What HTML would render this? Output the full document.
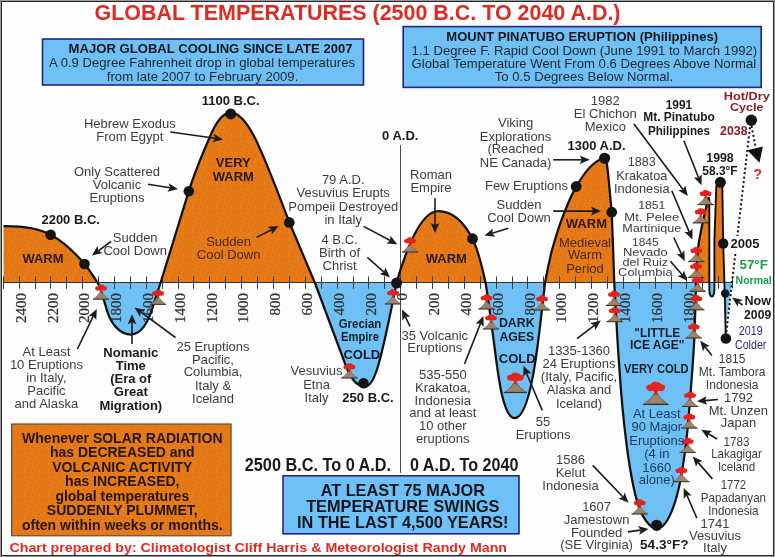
<!DOCTYPE html>
<html><head><meta charset="utf-8"><title>Global Temperatures</title>
<style>html,body{margin:0;padding:0;background:#fdfdfd}svg{display:block;will-change:transform}text{font-family:"Liberation Sans",sans-serif}.s{font-family:"Liberation Serif",serif}</style></head><body>
<svg width="775" height="557" viewBox="0 0 775 557">
<defs>
<clipPath id="up"><rect x="0" y="0" width="775" height="282.5"/></clipPath>
<clipPath id="dn"><rect x="0" y="282.5" width="775" height="274.5"/></clipPath>
<g id="v"><path d="M-7.8 0Q-3.4 -3 -0.9 -7.3L0.9 -7.3Q3.4 -3 7.8 0Z" fill="#9b846a" stroke="#5a4a3a" stroke-width="0.5" stroke-linejoin="round"/><path d="M-8.2 0H8.2" stroke="#3a3028" stroke-width="0.9"/><path d="M-1.05 -6.4V-10.2H1.05V-6.4Z" fill="#e3241c"/><path d="M-5.8 -10.6C-6.5 -12.6 -4.6 -14 -3.1 -13.5C-2.7 -15.1 -0.6 -15.8 0.9 -15C2.4 -15.2 3.4 -14.3 3.6 -13.5C5.2 -13.9 6.5 -12.5 5.8 -10.6C5.3 -9 3.4 -8.7 2.4 -9.3C1.4 -8.6 -1.4 -8.6 -2.4 -9.3C-3.4 -8.7 -5.3 -9 -5.8 -10.6Z" fill="#e3241c"/></g>
<pattern id="tx" width="24" height="24" patternUnits="userSpaceOnUse"><rect width="24" height="24" fill="#e47b15"/><rect x="10" y="4" width="1" height="1" fill="#e75a28"/><rect x="12" y="20" width="1" height="1" fill="#e75a28"/><rect x="1" y="2" width="1" height="1" fill="#e75a28"/><rect x="17" y="3" width="1" height="1" fill="#e75a28"/><rect x="11" y="18" width="1" height="1" fill="#e75a28"/><rect x="1" y="16" width="1" height="1" fill="#e68256"/><rect x="6" y="1" width="1" height="1" fill="#e75a28"/><rect x="2" y="13" width="1" height="1" fill="#e75a28"/><rect x="13" y="2" width="1" height="1" fill="#e75a28"/><rect x="17" y="13" width="1" height="1" fill="#e75a28"/><rect x="1" y="18" width="1" height="1" fill="#e75a28"/><rect x="3" y="7" width="1" height="1" fill="#e68256"/><rect x="20" y="20" width="1" height="1" fill="#e75a28"/><rect x="18" y="1" width="1" height="1" fill="#e75a28"/><rect x="18" y="18" width="1" height="1" fill="#e75a28"/><rect x="9" y="13" width="1" height="1" fill="#e75a28"/><rect x="4" y="17" width="1" height="1" fill="#e75a28"/><rect x="9" y="17" width="1" height="1" fill="#e68256"/><rect x="21" y="5" width="1" height="1" fill="#e75a28"/><rect x="18" y="20" width="1" height="1" fill="#e75a28"/><rect x="6" y="11" width="1" height="1" fill="#e75a28"/><rect x="22" y="2" width="1" height="1" fill="#e75a28"/><rect x="19" y="6" width="1" height="1" fill="#e75a28"/><rect x="15" y="21" width="1" height="1" fill="#e68256"/><rect x="11" y="9" width="1" height="1" fill="#e75a28"/><rect x="7" y="5" width="1" height="1" fill="#e75a28"/><rect x="22" y="7" width="1" height="1" fill="#e75a28"/><rect x="15" y="10" width="1" height="1" fill="#e75a28"/><rect x="23" y="14" width="1" height="1" fill="#e75a28"/><rect x="9" y="19" width="1" height="1" fill="#e68256"/><rect x="4" y="15" width="1" height="1" fill="#e75a28"/><rect x="22" y="11" width="1" height="1" fill="#e75a28"/><rect x="19" y="15" width="1" height="1" fill="#e75a28"/><rect x="8" y="15" width="1" height="1" fill="#e75a28"/><rect x="22" y="21" width="1" height="1" fill="#e75a28"/><rect x="0" y="14" width="1" height="1" fill="#e68256"/><rect x="19" y="3" width="1" height="1" fill="#e75a28"/><rect x="15" y="1" width="1" height="1" fill="#e75a28"/><rect x="6" y="9" width="1" height="1" fill="#e75a28"/><rect x="4" y="23" width="1" height="1" fill="#e75a28"/><rect x="12" y="15" width="1" height="1" fill="#e75a28"/><rect x="2" y="5" width="1" height="1" fill="#e68256"/><rect x="14" y="12" width="1" height="1" fill="#e75a28"/><rect x="17" y="8" width="1" height="1" fill="#e75a28"/><rect x="4" y="13" width="1" height="1" fill="#e75a28"/><rect x="12" y="7" width="1" height="1" fill="#e75a28"/></pattern>
</defs>
<rect x="0" y="0" width="775" height="557" fill="#fdfdfd"/>
<rect x="0.5" y="0.5" width="774" height="556" fill="none" stroke="#9a9a9a" stroke-width="1"/>
<rect x="1.5" y="1.5" width="772" height="554" fill="none" stroke="#262626" stroke-width="1"/>
<text x="94.5" y="20.2" font-size="22.3" fill="#de2a22" font-weight="bold" textLength="526" lengthAdjust="spacingAndGlyphs">GLOBAL TEMPERATURES (2500 B.C. TO 2040 A.D.)</text>
<rect x="42.5" y="39" width="321" height="46" fill="#6fc1f5" stroke="#26228c" stroke-width="1.6"/>
<text x="68.6" y="53.2" font-size="13" fill="#16161e" font-weight="bold" textLength="284" lengthAdjust="spacingAndGlyphs">MAJOR GLOBAL COOLING SINCE LATE 2007</text>
<text x="49" y="67" font-size="13" fill="#1c2430" textLength="306" lengthAdjust="spacingAndGlyphs">A 0.9 Degree Fahrenheit drop in global temperatures</text>
<text x="106.8" y="80.5" font-size="13" fill="#1c2430" textLength="191.5" lengthAdjust="spacingAndGlyphs">from late 2007 to February 2009.</text>
<rect x="403.2" y="26.6" width="358" height="60.8" fill="#6fc1f5" stroke="#26228c" stroke-width="1.6"/>
<text x="446.3" y="40.8" font-size="13" fill="#16161e" font-weight="bold" textLength="271.7" lengthAdjust="spacingAndGlyphs">MOUNT PINATUBO ERUPTION (Philippines)</text>
<text x="411.6" y="55" font-size="13" fill="#1c2430" textLength="345.6" lengthAdjust="spacingAndGlyphs">1.1 Degree F. Rapid Cool Down (June 1991 to March 1992)</text>
<text x="411.6" y="67.8" font-size="13" fill="#1c2430" textLength="344.6" lengthAdjust="spacingAndGlyphs">Global Temperature Went From 0.6 Degrees Above Normal</text>
<text x="494.7" y="80.5" font-size="13" fill="#1c2430" textLength="178.4" lengthAdjust="spacingAndGlyphs">To 0.5 Degrees Below Normal.</text>
<path d="M3.5 226.2C25 226 40 229 50.6 234.8C64 242 76 254 84.5 264C90 270.5 94 277 98 283.5C101 289 104 301 107.8 313C111.5 324 120 334.5 131 334.5C142 334.5 149 322 154.5 301.3L160.5 283L188.8 191.2C196 168 205 148 212 132C217 121 223 112.5 231 112.5C238 112.5 246 121 254 136C266 160 278 193 289.3 222.2L315 283L346.7 368C352 381 358 386.5 365 386.5C371 386.5 376 375 380 359C385 340 390 316 396.5 283C400 270 405 256 410 244C416 230 426 211.5 438 211C452 211 464 222 472.5 238.7C478 250 482 266 485.6 283C488 297 491 320 494 343C498 375 503 418 514.5 418C526 418 533 380 537 350C540 328 543 300 545 283C547 272 549 262 552 250C556 236 560 223 564.3 212.8C568 203 572 194 576.4 186.4C584 173 594 160 604.7 158C607 159 608 172 609.5 188.5L611.7 212.2C612.5 230 613.5 260 614.3 283C615.5 305 617 335 619 363C621 395 624 425 627 448C630 470 634 495 640 510C645 521 650 528.5 657 528.5C664 528.5 670 518 675.5 500.6C681 483 685 455 688 425C690 400 692.5 370 694 345C695 325 695.5 300 696 283C696.5 268 697 255 698.5 245C700 235 703 220 708.6 197L709.3 200L709.3 289C709.3 299 714.4 299 714.4 289L714.4 240L716.3 186L720.4 181L722.3 186L723.2 243L724.7 293L725.8 338L725.8 282.5L3.5 282.5Z" fill="url(#tx)" clip-path="url(#up)"/>
<path d="M3.5 226.2C25 226 40 229 50.6 234.8C64 242 76 254 84.5 264C90 270.5 94 277 98 283.5C101 289 104 301 107.8 313C111.5 324 120 334.5 131 334.5C142 334.5 149 322 154.5 301.3L160.5 283L188.8 191.2C196 168 205 148 212 132C217 121 223 112.5 231 112.5C238 112.5 246 121 254 136C266 160 278 193 289.3 222.2L315 283L346.7 368C352 381 358 386.5 365 386.5C371 386.5 376 375 380 359C385 340 390 316 396.5 283C400 270 405 256 410 244C416 230 426 211.5 438 211C452 211 464 222 472.5 238.7C478 250 482 266 485.6 283C488 297 491 320 494 343C498 375 503 418 514.5 418C526 418 533 380 537 350C540 328 543 300 545 283C547 272 549 262 552 250C556 236 560 223 564.3 212.8C568 203 572 194 576.4 186.4C584 173 594 160 604.7 158C607 159 608 172 609.5 188.5L611.7 212.2C612.5 230 613.5 260 614.3 283C615.5 305 617 335 619 363C621 395 624 425 627 448C630 470 634 495 640 510C645 521 650 528.5 657 528.5C664 528.5 670 518 675.5 500.6C681 483 685 455 688 425C690 400 692.5 370 694 345C695 325 695.5 300 696 283C696.5 268 697 255 698.5 245C700 235 703 220 708.6 197L709.3 200L709.3 289C709.3 299 714.4 299 714.4 289L714.4 240L716.3 186L720.4 181L722.3 186L723.2 243L724.7 293L725.8 338L725.8 282.5L3.5 282.5Z" fill="#6fc1f5" clip-path="url(#dn)"/>
<path d="M725 282.5L732 282.5L726.5 320L725.5 320Z" fill="#6fc1f5"/>
<line x1="400.5" y1="145" x2="400.5" y2="473" stroke="#4a4a4a" stroke-width="1"/>
<line x1="3.5" y1="282.5" x2="732.5" y2="282.5" stroke="#3a3030" stroke-width="1"/>
<path d="M3.5 276.4V288.8M19.5 276.4V288.8M35.5 276.4V288.8M50.5 276.4V288.8M66.5 276.4V288.8M82.5 276.4V288.8M98.5 276.4V288.8M114.5 276.4V288.8M130.5 276.4V288.8M146.5 276.4V288.8M162.5 276.4V288.8M178.5 276.4V288.8M193.5 276.4V288.8M209.5 276.4V288.8M225.5 276.4V288.8M241.5 276.4V288.8M257.5 276.4V288.8M273.5 276.4V288.8M289.5 276.4V288.8M305.5 276.4V288.8M321.5 276.4V288.8M337.5 276.4V288.8M353.5 276.4V288.8M368.5 276.4V288.8M384.5 276.4V288.8M400.5 276.4V288.8M416.5 276.4V288.8M432.5 276.4V288.8M448.5 276.4V288.8M464.5 276.4V288.8M480.5 276.4V288.8M496.5 276.4V288.8M512.5 276.4V288.8M527.5 276.4V288.8M543.5 276.4V288.8M559.5 276.4V288.8M575.5 276.4V288.8M591.5 276.4V288.8M607.5 276.4V288.8M623.5 276.4V288.8M639.5 276.4V288.8M655.5 276.4V288.8M671.5 276.4V288.8M686.5 276.4V288.8M702.5 276.4V288.8M718.5 276.4V288.8M732.5 277.5V288.5" stroke="#3a3a3a" stroke-width="1" fill="none"/>
<text class="s" font-size="15" fill="#333" stroke="#333" stroke-width="0.25" text-anchor="end" transform="translate(25.7 293.1) rotate(-90)">2400</text>
<text class="s" font-size="15" fill="#333" stroke="#333" stroke-width="0.25" text-anchor="end" transform="translate(57.5 293.1) rotate(-90)">2200</text>
<text class="s" font-size="15" fill="#333" stroke="#333" stroke-width="0.25" text-anchor="end" transform="translate(89.3 293.1) rotate(-90)">2000</text>
<text class="s" font-size="15" fill="#333" stroke="#333" stroke-width="0.25" text-anchor="end" transform="translate(121.1 293.1) rotate(-90)">1800</text>
<text class="s" font-size="15" fill="#333" stroke="#333" stroke-width="0.25" text-anchor="end" transform="translate(152.9 293.1) rotate(-90)">1600</text>
<text class="s" font-size="15" fill="#333" stroke="#333" stroke-width="0.25" text-anchor="end" transform="translate(184.7 293.1) rotate(-90)">1400</text>
<text class="s" font-size="15" fill="#333" stroke="#333" stroke-width="0.25" text-anchor="end" transform="translate(216.5 293.1) rotate(-90)">1200</text>
<text class="s" font-size="15" fill="#333" stroke="#333" stroke-width="0.25" text-anchor="end" transform="translate(248.3 293.1) rotate(-90)">1000</text>
<text class="s" font-size="15" fill="#333" stroke="#333" stroke-width="0.25" text-anchor="end" transform="translate(280.1 293.1) rotate(-90)">800</text>
<text class="s" font-size="15" fill="#333" stroke="#333" stroke-width="0.25" text-anchor="end" transform="translate(311.9 293.1) rotate(-90)">600</text>
<text class="s" font-size="15" fill="#333" stroke="#333" stroke-width="0.25" text-anchor="end" transform="translate(343.7 293.1) rotate(-90)">400</text>
<text class="s" font-size="15" fill="#333" stroke="#333" stroke-width="0.25" text-anchor="end" transform="translate(375.5 293.1) rotate(-90)">200</text>
<text class="s" font-size="15" fill="#333" stroke="#333" stroke-width="0.25" text-anchor="end" transform="translate(407.3 293.1) rotate(-90)">0</text>
<text class="s" font-size="15" fill="#333" stroke="#333" stroke-width="0.25" text-anchor="end" transform="translate(439.1 293.1) rotate(-90)">200</text>
<text class="s" font-size="15" fill="#333" stroke="#333" stroke-width="0.25" text-anchor="end" transform="translate(470.9 293.1) rotate(-90)">400</text>
<text class="s" font-size="15" fill="#333" stroke="#333" stroke-width="0.25" text-anchor="end" transform="translate(502.7 293.1) rotate(-90)">600</text>
<text class="s" font-size="15" fill="#333" stroke="#333" stroke-width="0.25" text-anchor="end" transform="translate(534.5 293.1) rotate(-90)">800</text>
<text class="s" font-size="15" fill="#333" stroke="#333" stroke-width="0.25" text-anchor="end" transform="translate(566.3 293.1) rotate(-90)">1000</text>
<text class="s" font-size="15" fill="#333" stroke="#333" stroke-width="0.25" text-anchor="end" transform="translate(598.1 293.1) rotate(-90)">1200</text>
<text class="s" font-size="15" fill="#333" stroke="#333" stroke-width="0.25" text-anchor="end" transform="translate(629.9 293.1) rotate(-90)">1400</text>
<text class="s" font-size="15" fill="#333" stroke="#333" stroke-width="0.25" text-anchor="end" transform="translate(661.7 293.1) rotate(-90)">1600</text>
<text class="s" font-size="15" fill="#333" stroke="#333" stroke-width="0.25" text-anchor="end" transform="translate(693.5 293.1) rotate(-90)">1800</text>
<path d="M3.5 226.2C25 226 40 229 50.6 234.8C64 242 76 254 84.5 264C90 270.5 94 277 98 283.5C101 289 104 301 107.8 313C111.5 324 120 334.5 131 334.5C142 334.5 149 322 154.5 301.3L160.5 283L188.8 191.2C196 168 205 148 212 132C217 121 223 112.5 231 112.5C238 112.5 246 121 254 136C266 160 278 193 289.3 222.2L315 283L346.7 368C352 381 358 386.5 365 386.5C371 386.5 376 375 380 359C385 340 390 316 396.5 283C400 270 405 256 410 244C416 230 426 211.5 438 211C452 211 464 222 472.5 238.7C478 250 482 266 485.6 283C488 297 491 320 494 343C498 375 503 418 514.5 418C526 418 533 380 537 350C540 328 543 300 545 283C547 272 549 262 552 250C556 236 560 223 564.3 212.8C568 203 572 194 576.4 186.4C584 173 594 160 604.7 158C607 159 608 172 609.5 188.5L611.7 212.2C612.5 230 613.5 260 614.3 283C615.5 305 617 335 619 363C621 395 624 425 627 448C630 470 634 495 640 510C645 521 650 528.5 657 528.5C664 528.5 670 518 675.5 500.6C681 483 685 455 688 425C690 400 692.5 370 694 345C695 325 695.5 300 696 283C696.5 268 697 255 698.5 245C700 235 703 220 708.6 197" fill="none" stroke="#111" stroke-width="2.25" stroke-linejoin="round"/>
<path d="M708.6 197L709.3 200L709.3 289C709.3 299 714.4 299 714.4 289L714.4 240L716.3 186L720.4 181L722.3 186L723.2 243L724.7 293L725.8 338" fill="none" stroke="#111" stroke-width="1.9" stroke-linejoin="round"/>
<path d="M750.5 123L737.4 236M735.3 254L726 335" stroke="#111" stroke-width="2" stroke-dasharray="2 2.5" fill="none"/>
<path d="M751.5 126L755.8 148" stroke="#111" stroke-width="2" stroke-dasharray="2 2.5" fill="none"/>
<path d="M747.4 150.3L762.9 146.5L759.5 162.7Z" fill="#111"/>
<circle cx="50.6" cy="234.8" r="5.3" fill="#141414"/>
<circle cx="84.5" cy="264" r="5.3" fill="#141414"/>
<circle cx="188.8" cy="191.2" r="5.3" fill="#141414"/>
<circle cx="230.7" cy="113.9" r="5.5" fill="#141414"/>
<circle cx="289.3" cy="222.4" r="5.3" fill="#141414"/>
<circle cx="363.5" cy="383.3" r="5.3" fill="#141414"/>
<circle cx="396.6" cy="283" r="5.5" fill="#141414"/>
<circle cx="472.5" cy="238.7" r="5.4" fill="#141414"/>
<circle cx="576.2" cy="186.5" r="5.4" fill="#141414"/>
<circle cx="604.6" cy="158.3" r="5.6" fill="#141414"/>
<circle cx="611.7" cy="212.2" r="5.4" fill="#141414"/>
<circle cx="656.6" cy="525.3" r="5.6" fill="#141414"/>
<circle cx="720.4" cy="182.3" r="5.5" fill="#141414"/>
<circle cx="723.2" cy="243.5" r="5.2" fill="#141414"/>
<circle cx="725.2" cy="293.5" r="4.2" fill="#141414"/>
<circle cx="725.9" cy="338.5" r="5.3" fill="#141414"/>
<circle cx="751.3" cy="120.3" r="5.7" fill="#141414"/>
<use href="#v" transform="translate(101 299.2) scale(1.0 0.96)"/>
<use href="#v" transform="translate(158 304.4) scale(1.0 0.96)"/>
<use href="#v" transform="translate(349.4 378) scale(1.0 0.96)"/>
<use href="#v" transform="translate(393 304) scale(1.0 0.96)"/>
<use href="#v" transform="translate(410 252) scale(1.0 0.96)"/>
<use href="#v" transform="translate(486.5 309) scale(1.0 0.96)"/>
<use href="#v" transform="translate(491 329) scale(1.0 0.96)"/>
<use href="#v" transform="translate(542 310) scale(1.0 0.96)"/>
<use href="#v" transform="translate(515.3 392.5) scale(1.41 1.3)"/>
<use href="#v" transform="translate(614 305.5) scale(1.0 0.96)"/>
<use href="#v" transform="translate(614.7 321.7) scale(1.0 0.96)"/>
<use href="#v" transform="translate(655.7 404.4) scale(1.57 1.47)"/>
<use href="#v" transform="translate(705.6 204.6) scale(1.0 0.96)"/>
<use href="#v" transform="translate(700.8 222.9) scale(1.0 0.96)"/>
<use href="#v" transform="translate(696.3 261.6) scale(1.0 0.96)"/>
<use href="#v" transform="translate(696 277.5) scale(1.0 0.96)"/>
<use href="#v" transform="translate(697.6 291.3) scale(1.0 0.96)"/>
<use href="#v" transform="translate(696.3 309.8) scale(1.0 0.96)"/>
<use href="#v" transform="translate(693.7 338) scale(1.0 0.96)"/>
<use href="#v" transform="translate(690 406.5) scale(1.0 0.96)"/>
<use href="#v" transform="translate(689.3 428.1) scale(1.0 0.96)"/>
<use href="#v" transform="translate(687.7 452.5) scale(1.0 0.96)"/>
<use href="#v" transform="translate(681.4 481.7) scale(1.0 0.96)"/>
<use href="#v" transform="translate(639.7 514) scale(1.0 0.96)"/>
<path d="M170.3 132.0L215.1 138.3" stroke="#1c1c1c" stroke-width="1.6" fill="none"/>
<path d="M223.0 139.4L212.5 142.3L215.1 138.3L213.7 133.8Z" fill="#1c1c1c"/>
<path d="M148.0 184.3L170.1 187.8" stroke="#1c1c1c" stroke-width="1.6" fill="none"/>
<path d="M178.0 189.0L167.5 191.7L170.1 187.8L168.8 183.2Z" fill="#1c1c1c"/>
<path d="M111.0 241.5L98.4 250.8" stroke="#1c1c1c" stroke-width="1.6" fill="none"/>
<path d="M91.9 255.5L97.4 246.1L98.4 250.8L102.5 253.1Z" fill="#1c1c1c"/>
<path d="M256.5 237.4L271.6 229.7" stroke="#1c1c1c" stroke-width="1.6" fill="none"/>
<path d="M278.7 226.0L271.8 234.4L271.6 229.7L267.8 226.7Z" fill="#1c1c1c"/>
<path d="M363.6 226.4L390.2 240.5" stroke="#1c1c1c" stroke-width="1.6" fill="none"/>
<path d="M397.3 244.3L386.5 243.4L390.2 240.5L390.5 235.8Z" fill="#1c1c1c"/>
<path d="M367.4 257.4L384.0 272.1" stroke="#1c1c1c" stroke-width="1.6" fill="none"/>
<path d="M390.0 277.4L379.7 274.0L384.0 272.1L385.4 267.6Z" fill="#1c1c1c"/>
<path d="M435.0 198.0L435.0 224.9" stroke="#1c1c1c" stroke-width="1.6" fill="none"/>
<path d="M435.0 232.9L430.7 222.9L435.0 224.9L439.3 222.9Z" fill="#1c1c1c"/>
<path d="M508.3 228.3L492.2 233.2" stroke="#1c1c1c" stroke-width="1.6" fill="none"/>
<path d="M484.5 235.5L492.8 228.5L492.2 233.2L495.3 236.7Z" fill="#1c1c1c"/>
<path d="M553.2 159.8L581.8 159.8" stroke="#1c1c1c" stroke-width="1.6" fill="none"/>
<path d="M589.8 159.8L579.8 164.1L581.8 159.8L579.8 155.5Z" fill="#1c1c1c"/>
<path d="M553.2 211.1L593.1 211.1" stroke="#1c1c1c" stroke-width="1.6" fill="none"/>
<path d="M601.1 211.1L591.1 215.4L593.1 211.1L591.1 206.8Z" fill="#1c1c1c"/>
<path d="M633.8 123.7L683.0 189.6" stroke="#1c1c1c" stroke-width="1.6" fill="none"/>
<path d="M687.8 196.0L678.4 190.6L683.0 189.6L685.3 185.4Z" fill="#1c1c1c"/>
<path d="M683.9 140.8L698.6 177.8" stroke="#1c1c1c" stroke-width="1.6" fill="none"/>
<path d="M701.5 185.2L693.8 177.5L698.6 177.8L701.8 174.3Z" fill="#1c1c1c"/>
<path d="M671.8 190.8L689.3 232.1" stroke="#1c1c1c" stroke-width="1.6" fill="none"/>
<path d="M692.4 239.5L684.5 232.0L689.3 232.1L692.5 228.6Z" fill="#1c1c1c"/>
<path d="M673.8 237.5L681.4 253.9" stroke="#1c1c1c" stroke-width="1.6" fill="none"/>
<path d="M684.7 261.2L676.6 253.9L681.4 253.9L684.4 250.3Z" fill="#1c1c1c"/>
<path d="M670.5 261.3L682.1 274.7" stroke="#1c1c1c" stroke-width="1.6" fill="none"/>
<path d="M687.3 280.8L677.5 276.0L682.1 274.7L684.0 270.4Z" fill="#1c1c1c"/>
<path d="M77.4 349.0L93.3 316.2" stroke="#1c1c1c" stroke-width="1.6" fill="none"/>
<path d="M96.8 309.0L96.3 319.9L93.3 316.2L88.6 316.1Z" fill="#1c1c1c"/>
<path d="M132.0 343.9L132.0 322.2" stroke="#1c1c1c" stroke-width="1.6" fill="none"/>
<path d="M132.0 314.2L136.3 324.2L132.0 322.2L127.7 324.2Z" fill="#1c1c1c"/>
<path d="M175.5 337.5L140.9 312.1" stroke="#1c1c1c" stroke-width="1.6" fill="none"/>
<path d="M134.5 307.4L145.1 309.9L140.9 312.1L140.0 316.8Z" fill="#1c1c1c"/>
<path d="M410.0 326.4L405.4 316.8" stroke="#1c1c1c" stroke-width="1.6" fill="none"/>
<path d="M402.0 309.6L410.2 316.8L405.4 316.8L402.4 320.5Z" fill="#1c1c1c"/>
<path d="M464.5 364.0L480.5 323.4" stroke="#1c1c1c" stroke-width="1.6" fill="none"/>
<path d="M483.4 316.0L483.7 326.9L480.5 323.4L475.7 323.7Z" fill="#1c1c1c"/>
<path d="M542.3 410.4L526.5 373.2" stroke="#1c1c1c" stroke-width="1.6" fill="none"/>
<path d="M523.4 365.8L531.3 373.3L526.5 373.2L523.3 376.7Z" fill="#1c1c1c"/>
<path d="M577.0 338.7L594.4 325.4" stroke="#1c1c1c" stroke-width="1.6" fill="none"/>
<path d="M600.8 320.6L595.4 330.1L594.4 325.4L590.2 323.2Z" fill="#1c1c1c"/>
<path d="M711.8 355.5L705.2 347.1" stroke="#1c1c1c" stroke-width="1.6" fill="none"/>
<path d="M700.2 340.8L709.8 346.0L705.2 347.1L703.0 351.3Z" fill="#1c1c1c"/>
<path d="M742.5 305.0L738.6 302.1" stroke="#1c1c1c" stroke-width="1.6" fill="none"/>
<path d="M732.2 297.4L742.8 299.9L738.6 302.1L737.7 306.8Z" fill="#1c1c1c"/>
<path d="M718.0 399.5L705.0 400.6" stroke="#1c1c1c" stroke-width="1.6" fill="none"/>
<path d="M697.0 401.3L706.6 396.2L705.0 400.6L707.3 404.7Z" fill="#1c1c1c"/>
<path d="M717.0 439.0L708.2 433.8" stroke="#1c1c1c" stroke-width="1.6" fill="none"/>
<path d="M701.3 429.8L712.1 431.1L708.2 433.8L707.8 438.6Z" fill="#1c1c1c"/>
<path d="M712.4 478.9L698.0 462.4" stroke="#1c1c1c" stroke-width="1.6" fill="none"/>
<path d="M692.7 456.4L702.5 461.1L698.0 462.4L696.1 466.8Z" fill="#1c1c1c"/>
<path d="M696.9 518.3L686.9 495.2" stroke="#1c1c1c" stroke-width="1.6" fill="none"/>
<path d="M683.7 487.9L691.6 495.4L686.9 495.2L683.7 498.8Z" fill="#1c1c1c"/>
<path d="M592.7 465.4L623.0 497.0" stroke="#1c1c1c" stroke-width="1.6" fill="none"/>
<path d="M628.5 502.8L618.5 498.5L623.0 497.0L624.7 492.6Z" fill="#1c1c1c"/>
<path d="M627.9 531.9L640.6 530.1" stroke="#1c1c1c" stroke-width="1.6" fill="none"/>
<path d="M648.5 529.0L639.2 534.7L640.6 530.1L638.0 526.1Z" fill="#1c1c1c"/>
<text x="230.7" y="104.8" font-size="13" fill="#1a1a1a" font-weight="bold" text-anchor="middle">1100 B.C.</text>
<text x="129.8" y="128" font-size="13" fill="#3d3d3d" text-anchor="middle">Hebrew Exodus</text>
<text x="129.8" y="141" font-size="13" fill="#3d3d3d" text-anchor="middle">From Egypt</text>
<text x="117" y="176" font-size="13" fill="#3d3d3d" text-anchor="middle">Only Scattered</text>
<text x="117" y="189" font-size="13" fill="#3d3d3d" text-anchor="middle">Volcanic</text>
<text x="117" y="202" font-size="13" fill="#3d3d3d" text-anchor="middle">Eruptions</text>
<text x="70.7" y="224.4" font-size="13" fill="#1a1a1a" font-weight="bold" text-anchor="middle">2200 B.C.</text>
<text x="43" y="263" font-size="13" fill="#2a1808" font-weight="bold" text-anchor="middle">WARM</text>
<text x="135.2" y="242" font-size="13" fill="#3d3d3d" text-anchor="middle">Sudden</text>
<text x="135.2" y="255.4" font-size="13" fill="#3d3d3d" text-anchor="middle">Cool Down</text>
<text x="233.3" y="166.7" font-size="13" fill="#2a1808" font-weight="bold" text-anchor="middle">VERY</text>
<text x="233.3" y="180.6" font-size="13" fill="#2a1808" font-weight="bold" text-anchor="middle">WARM</text>
<text x="228.6" y="245.7" font-size="13" fill="#4a2808" text-anchor="middle">Sudden</text>
<text x="228.6" y="259" font-size="13" fill="#4a2808" text-anchor="middle">Cool Down</text>
<text x="343.2" y="184.3" font-size="13" fill="#3d3d3d" text-anchor="middle">79 A.D.</text>
<text x="343.2" y="197.2" font-size="13" fill="#3d3d3d" text-anchor="middle">Vesuvius Erupts</text>
<text x="343.2" y="210.6" font-size="13" fill="#3d3d3d" text-anchor="middle">Pompeii Destroyed</text>
<text x="343.2" y="223.5" font-size="13" fill="#3d3d3d" text-anchor="middle">in Italy</text>
<text x="339.6" y="243.6" font-size="13" fill="#3d3d3d" text-anchor="middle">4 B.C.</text>
<text x="339.6" y="257" font-size="13" fill="#3d3d3d" text-anchor="middle">Birth of</text>
<text x="339.6" y="270" font-size="13" fill="#3d3d3d" text-anchor="middle">Christ</text>
<text x="400.2" y="139.5" font-size="13" fill="#1a1a1a" font-weight="bold" text-anchor="middle">0 A.D.</text>
<text x="431" y="179.4" font-size="13" fill="#3d3d3d" text-anchor="middle">Roman</text>
<text x="431" y="192.2" font-size="13" fill="#3d3d3d" text-anchor="middle">Empire</text>
<text x="446.3" y="262.5" font-size="13" fill="#2a1808" font-weight="bold" text-anchor="middle">WARM</text>
<text x="515.6" y="127.4" font-size="13" fill="#3d3d3d" text-anchor="middle">Viking</text>
<text x="515.6" y="140.7" font-size="13" fill="#3d3d3d" text-anchor="middle">Explorations</text>
<text x="515.6" y="153.4" font-size="13" fill="#3d3d3d" text-anchor="middle">(Reached</text>
<text x="515.6" y="166.7" font-size="13" fill="#3d3d3d" text-anchor="middle">NE Canada)</text>
<text x="596.6" y="150.4" font-size="13" fill="#1a1a1a" font-weight="bold" text-anchor="middle">1300 A.D.</text>
<text x="526.5" y="189.6" font-size="13" fill="#3d3d3d" text-anchor="middle">Few Eruptions</text>
<text x="519" y="209" font-size="13" fill="#3d3d3d" text-anchor="middle">Sudden</text>
<text x="519" y="222.2" font-size="13" fill="#3d3d3d" text-anchor="middle">Cool Down</text>
<text x="586.4" y="227.8" font-size="13" fill="#2a1808" font-weight="bold" text-anchor="middle">WARM</text>
<text x="585" y="246.7" font-size="13" fill="#4a2808" text-anchor="middle">Medieval</text>
<text x="585" y="259.4" font-size="13" fill="#4a2808" text-anchor="middle">Warm</text>
<text x="585" y="272.7" font-size="13" fill="#4a2808" text-anchor="middle">Period</text>
<text x="605.3" y="104.5" font-size="13" fill="#3d3d3d" text-anchor="middle">1982</text>
<text x="605.3" y="117.7" font-size="13" fill="#3d3d3d" text-anchor="middle">El Chichon</text>
<text x="605.3" y="130.5" font-size="13" fill="#3d3d3d" text-anchor="middle">Mexico</text>
<text x="679" y="108.6" font-size="13" fill="#1a1a1a" font-weight="bold" text-anchor="middle" textLength="26.5" lengthAdjust="spacingAndGlyphs">1991</text>
<text x="679" y="121.3" font-size="13" fill="#1a1a1a" font-weight="bold" text-anchor="middle" textLength="71.5" lengthAdjust="spacingAndGlyphs">Mt. Pinatubo</text>
<text x="679" y="134.6" font-size="13" fill="#1a1a1a" font-weight="bold" text-anchor="middle" textLength="62" lengthAdjust="spacingAndGlyphs">Philippines</text>
<text x="746.8" y="99.9" font-size="11" fill="#8e1c22" font-weight="bold" text-anchor="middle" textLength="46" lengthAdjust="spacingAndGlyphs">Hot/Dry</text>
<text x="746.8" y="111.3" font-size="11" fill="#8e1c22" font-weight="bold" text-anchor="middle" textLength="33.5" lengthAdjust="spacingAndGlyphs">Cycle</text>
<text x="733.8" y="134.8" font-size="12.5" fill="#8e1c22" font-weight="bold" text-anchor="middle" textLength="27.4" lengthAdjust="spacingAndGlyphs">2038</text>
<text x="757.6" y="178.7" font-size="14.5" fill="#e02626" font-weight="bold" text-anchor="middle">?</text>
<text x="720" y="162" font-size="13" fill="#1a1a1a" font-weight="bold" text-anchor="middle" textLength="27.4" lengthAdjust="spacingAndGlyphs">1998</text>
<text x="720" y="174.8" font-size="13" fill="#1a1a1a" font-weight="bold" text-anchor="middle" textLength="35.3" lengthAdjust="spacingAndGlyphs">58.3°F</text>
<text x="641.8" y="165.8" font-size="13" fill="#3d3d3d" text-anchor="middle" textLength="27.9" lengthAdjust="spacingAndGlyphs">1883</text>
<text x="641.8" y="179.5" font-size="13" fill="#3d3d3d" text-anchor="middle" textLength="51.1" lengthAdjust="spacingAndGlyphs">Krakatoa</text>
<text x="641.8" y="192.9" font-size="13" fill="#3d3d3d" text-anchor="middle" textLength="55.5" lengthAdjust="spacingAndGlyphs">Indonesia</text>
<text transform="translate(651.8 208.9) scale(1 0.9)" font-size="13" fill="#3d3d3d" text-anchor="middle" textLength="27.1" lengthAdjust="spacingAndGlyphs">1851</text>
<text transform="translate(651.8 220.8) scale(1 0.9)" font-size="13" fill="#3d3d3d" text-anchor="middle" textLength="55" lengthAdjust="spacingAndGlyphs">Mt. Pelee</text>
<text transform="translate(651.8 231.6) scale(1 0.9)" font-size="13" fill="#3d3d3d" text-anchor="middle" textLength="58.9" lengthAdjust="spacingAndGlyphs">Martinique</text>
<text transform="translate(645.3 245.7) scale(1 0.78)" font-size="13" fill="#3d3d3d" text-anchor="middle" textLength="26.6" lengthAdjust="spacingAndGlyphs">1845</text>
<text transform="translate(645.3 255.7) scale(1 0.78)" font-size="13" fill="#3d3d3d" text-anchor="middle" textLength="44.7" lengthAdjust="spacingAndGlyphs">Nevado</text>
<text transform="translate(645.3 266) scale(1 0.78)" font-size="13" fill="#3d3d3d" text-anchor="middle" textLength="45.7" lengthAdjust="spacingAndGlyphs">del Ruiz</text>
<text transform="translate(645.3 276.3) scale(1 0.78)" font-size="13" fill="#3d3d3d" text-anchor="middle" textLength="54.5" lengthAdjust="spacingAndGlyphs">Columbia</text>
<text x="745" y="247.5" font-size="13" fill="#1a1a1a" font-weight="bold" text-anchor="middle" textLength="29" lengthAdjust="spacingAndGlyphs">2005</text>
<text x="753.7" y="269.4" font-size="12.5" fill="#14a04e" font-weight="bold" text-anchor="middle" textLength="28.4" lengthAdjust="spacingAndGlyphs">57°F</text>
<text x="753.7" y="284.2" font-size="10.3" fill="#14a04e" font-weight="bold" text-anchor="middle" textLength="36.2" lengthAdjust="spacingAndGlyphs">Normal</text>
<text x="757.7" y="305.2" font-size="12.5" fill="#1a1a1a" font-weight="bold" text-anchor="middle" textLength="26.5" lengthAdjust="spacingAndGlyphs">Now</text>
<text x="757.7" y="318.9" font-size="12.5" fill="#1a1a1a" font-weight="bold" text-anchor="middle" textLength="27.3" lengthAdjust="spacingAndGlyphs">2009</text>
<text x="750.7" y="335.2" font-size="12.4" fill="#2c2a86" text-anchor="middle" textLength="23.8" lengthAdjust="spacingAndGlyphs">2019</text>
<text x="750.7" y="349" font-size="12.4" fill="#2c2a86" text-anchor="middle" textLength="31.5" lengthAdjust="spacingAndGlyphs">Colder</text>
<text x="46.4" y="356" font-size="13" fill="#3d3d3d" text-anchor="middle">At Least</text>
<text x="46.4" y="369" font-size="13" fill="#3d3d3d" text-anchor="middle">10 Eruptions</text>
<text x="46.4" y="381.8" font-size="13" fill="#3d3d3d" text-anchor="middle">in Italy,</text>
<text x="46.4" y="394.7" font-size="13" fill="#3d3d3d" text-anchor="middle">Pacific</text>
<text x="46.4" y="408" font-size="13" fill="#3d3d3d" text-anchor="middle">and Alaska</text>
<text x="130.8" y="356.8" font-size="13" fill="#1a1a1a" font-weight="bold" text-anchor="middle">Nomanic</text>
<text x="130.8" y="369.7" font-size="13" fill="#1a1a1a" font-weight="bold" text-anchor="middle">Time</text>
<text x="130.8" y="383.2" font-size="13" fill="#1a1a1a" font-weight="bold" text-anchor="middle">(Era of</text>
<text x="130.8" y="395.8" font-size="13" fill="#1a1a1a" font-weight="bold" text-anchor="middle">Great</text>
<text x="130.8" y="409.5" font-size="13" fill="#1a1a1a" font-weight="bold" text-anchor="middle">Migration)</text>
<text x="213" y="351" font-size="13" fill="#3d3d3d" text-anchor="middle">25 Eruptions</text>
<text x="213" y="363.8" font-size="13" fill="#3d3d3d" text-anchor="middle">Pacific,</text>
<text x="213" y="376.3" font-size="13" fill="#3d3d3d" text-anchor="middle">Columbia,</text>
<text x="213" y="389.5" font-size="13" fill="#3d3d3d" text-anchor="middle">Italy &amp;</text>
<text x="213" y="402.5" font-size="13" fill="#3d3d3d" text-anchor="middle">Iceland</text>
<text x="316.5" y="375.3" font-size="13" fill="#3d3d3d" text-anchor="middle">Vesuvius</text>
<text x="316.5" y="388.5" font-size="13" fill="#3d3d3d" text-anchor="middle">Etna</text>
<text x="316.5" y="401.8" font-size="13" fill="#3d3d3d" text-anchor="middle">Italy</text>
<text x="360" y="327.5" font-size="13" fill="#161c26" font-weight="bold" text-anchor="middle" textLength="42.7" lengthAdjust="spacingAndGlyphs">Grecian</text>
<text x="360" y="340.6" font-size="13" fill="#161c26" font-weight="bold" text-anchor="middle" textLength="37.8" lengthAdjust="spacingAndGlyphs">Empire</text>
<text x="361.8" y="358.5" font-size="13" fill="#161c26" font-weight="bold" text-anchor="middle">COLD</text>
<text x="368" y="402" font-size="13" fill="#1a1a1a" font-weight="bold" text-anchor="middle">250 B.C.</text>
<text x="434.8" y="340.4" font-size="13" fill="#3d3d3d" text-anchor="middle">35 Volcanic</text>
<text x="434.8" y="352.3" font-size="13" fill="#3d3d3d" text-anchor="middle">Eruptions</text>
<text x="442.8" y="379.1" font-size="13" fill="#3d3d3d" text-anchor="middle">535-550</text>
<text x="442.8" y="391.6" font-size="13" fill="#3d3d3d" text-anchor="middle">Krakatoa,</text>
<text x="442.8" y="404.5" font-size="13" fill="#3d3d3d" text-anchor="middle">Indonesia</text>
<text x="442.8" y="417.2" font-size="13" fill="#3d3d3d" text-anchor="middle">and at least</text>
<text x="442.8" y="430.2" font-size="13" fill="#3d3d3d" text-anchor="middle">10 other</text>
<text x="442.8" y="443.2" font-size="13" fill="#3d3d3d" text-anchor="middle">eruptions</text>
<text x="516.8" y="327.2" font-size="13" fill="#161c26" font-weight="bold" text-anchor="middle" textLength="35.8" lengthAdjust="spacingAndGlyphs">DARK</text>
<text x="516.8" y="340.6" font-size="13" fill="#161c26" font-weight="bold" text-anchor="middle" textLength="34.7" lengthAdjust="spacingAndGlyphs">AGES</text>
<text x="517.2" y="362.8" font-size="13" fill="#161c26" font-weight="bold" text-anchor="middle">COLD</text>
<text x="543.1" y="426.4" font-size="13" fill="#3d3d3d" text-anchor="middle">55</text>
<text x="543.1" y="438.9" font-size="13" fill="#3d3d3d" text-anchor="middle">Eruptions</text>
<text x="579" y="354.6" font-size="13" fill="#3d3d3d" text-anchor="middle">1335-1360</text>
<text x="579" y="367.8" font-size="13" fill="#3d3d3d" text-anchor="middle">24 Eruptions</text>
<text x="579" y="381.2" font-size="13" fill="#3d3d3d" text-anchor="middle">(Italy, Pacific,</text>
<text x="579" y="394.3" font-size="13" fill="#3d3d3d" text-anchor="middle">Alaska and</text>
<text x="579" y="407.5" font-size="13" fill="#3d3d3d" text-anchor="middle">Iceland)</text>
<text x="657.2" y="336.6" font-size="13" fill="#161c26" font-weight="bold" text-anchor="middle" textLength="45.7" lengthAdjust="spacingAndGlyphs">"LITTLE</text>
<text x="657.2" y="349.4" font-size="13" fill="#161c26" font-weight="bold" text-anchor="middle" textLength="54.5" lengthAdjust="spacingAndGlyphs">ICE AGE"</text>
<text x="656.3" y="373" font-size="13" fill="#161c26" font-weight="bold" text-anchor="middle" textLength="64.5" lengthAdjust="spacingAndGlyphs">VERY COLD</text>
<text x="656.8" y="418" font-size="13" fill="#173a5c" text-anchor="middle">At Least</text>
<text x="656.8" y="431.4" font-size="13" fill="#173a5c" text-anchor="middle">90 Major</text>
<text x="656.8" y="444.9" font-size="13" fill="#173a5c" text-anchor="middle">Eruptions</text>
<text x="656.8" y="457.8" font-size="13" fill="#173a5c" text-anchor="middle">(4 in</text>
<text x="656.8" y="471.6" font-size="13" fill="#173a5c" text-anchor="middle">1660</text>
<text x="656.8" y="483.7" font-size="13" fill="#173a5c" text-anchor="middle">alone)</text>
<text x="570.5" y="464" font-size="13" fill="#3d3d3d" text-anchor="middle">1586</text>
<text x="570.5" y="477" font-size="13" fill="#3d3d3d" text-anchor="middle">Kelut</text>
<text x="570.5" y="490" font-size="13" fill="#3d3d3d" text-anchor="middle">Indonesia</text>
<text x="596.6" y="510.7" font-size="13" fill="#3d3d3d" text-anchor="middle">1607</text>
<text x="596.6" y="523.9" font-size="13" fill="#3d3d3d" text-anchor="middle">Jamestown</text>
<text x="596.6" y="536.7" font-size="13" fill="#3d3d3d" text-anchor="middle">Founded</text>
<text x="596.6" y="549.4" font-size="13" fill="#3d3d3d" text-anchor="middle">(SE Virginia)</text>
<text x="664.3" y="549.3" font-size="13.5" fill="#1a1a1a" font-weight="bold" text-anchor="middle" textLength="48.5" lengthAdjust="spacingAndGlyphs">54.3°F?</text>
<text x="732.1" y="362.9" font-size="13" fill="#3d3d3d" text-anchor="middle" textLength="26.6" lengthAdjust="spacingAndGlyphs">1815</text>
<text x="732.1" y="376.1" font-size="13" fill="#3d3d3d" text-anchor="middle" textLength="66.5" lengthAdjust="spacingAndGlyphs">Mt. Tambora</text>
<text x="732.1" y="389.2" font-size="13" fill="#3d3d3d" text-anchor="middle" textLength="52.6" lengthAdjust="spacingAndGlyphs">Indonesia</text>
<text x="738.4" y="401.7" font-size="13" fill="#3d3d3d" text-anchor="middle">1792</text>
<text x="738.4" y="415.2" font-size="13" fill="#3d3d3d" text-anchor="middle">Mt. Unzen</text>
<text x="738.4" y="427.4" font-size="13" fill="#3d3d3d" text-anchor="middle">Japan</text>
<text x="736.5" y="445.6" font-size="13" fill="#3d3d3d" text-anchor="middle" textLength="25.9" lengthAdjust="spacingAndGlyphs">1783</text>
<text x="736.5" y="458" font-size="13" fill="#3d3d3d" text-anchor="middle" textLength="50.7" lengthAdjust="spacingAndGlyphs">Lakagigar</text>
<text x="736.5" y="471.3" font-size="13" fill="#3d3d3d" text-anchor="middle" textLength="37.2" lengthAdjust="spacingAndGlyphs">Iceland</text>
<text x="733.4" y="488.8" font-size="13" fill="#3d3d3d" text-anchor="middle" textLength="25.4" lengthAdjust="spacingAndGlyphs">1772</text>
<text x="733.4" y="502" font-size="13" fill="#3d3d3d" text-anchor="middle" textLength="65.4" lengthAdjust="spacingAndGlyphs">Papadanyan</text>
<text x="733.4" y="514.7" font-size="13" fill="#3d3d3d" text-anchor="middle" textLength="50.2" lengthAdjust="spacingAndGlyphs">Indonesia</text>
<text x="715" y="527.8" font-size="13" fill="#3d3d3d" text-anchor="middle">1741</text>
<text x="715" y="540.4" font-size="13" fill="#3d3d3d" text-anchor="middle">Vesuvius</text>
<text x="715" y="551.7" font-size="13" fill="#3d3d3d" text-anchor="middle">Italy</text>
<rect x="11.6" y="424" width="219.5" height="111.8" fill="url(#tx)" stroke="#5a4632" stroke-width="1.1"/>
<text x="122.3" y="442.7" font-size="14" fill="#24160a" font-weight="bold" text-anchor="middle">Whenever SOLAR RADIATION</text>
<text x="122.3" y="457" font-size="14" fill="#24160a" font-weight="bold" text-anchor="middle">has DECREASED and</text>
<text x="122.3" y="472" font-size="14" fill="#24160a" font-weight="bold" text-anchor="middle">VOLCANIC ACTIVITY</text>
<text x="122.3" y="486.2" font-size="14" fill="#24160a" font-weight="bold" text-anchor="middle">has INCREASED,</text>
<text x="122.3" y="500.8" font-size="14" fill="#24160a" font-weight="bold" text-anchor="middle">global temperatures</text>
<text x="122.3" y="515" font-size="14" fill="#24160a" font-weight="bold" text-anchor="middle">SUDDENLY PLUMMET,</text>
<text x="122.3" y="529.8" font-size="14" fill="#24160a" font-weight="bold" text-anchor="middle">often within weeks or months.</text>
<text x="244.8" y="471.3" font-size="17.6" fill="#1a1a1a" font-weight="bold" textLength="146.3" lengthAdjust="spacingAndGlyphs">2500 B.C. To 0 A.D.</text>
<text x="410" y="471.3" font-size="17.6" fill="#1a1a1a" font-weight="bold" textLength="108.5" lengthAdjust="spacingAndGlyphs">0 A.D. To 2040</text>
<rect x="283" y="475.8" width="236" height="58" fill="#6fc1f5" stroke="#26228c" stroke-width="1.6"/>
<text x="402.8" y="495.7" font-size="16.3" fill="#10141c" font-weight="bold" text-anchor="middle">AT LEAST 75 MAJOR</text>
<text x="402.8" y="512" font-size="16.3" fill="#10141c" font-weight="bold" text-anchor="middle">TEMPERATURE SWINGS</text>
<text x="402.8" y="528.2" font-size="16.3" fill="#10141c" font-weight="bold" text-anchor="middle">IN THE LAST 4,500 YEARS!</text>
<text x="9.5" y="552" font-size="13.5" fill="#de2a22" font-weight="bold" textLength="497.5" lengthAdjust="spacingAndGlyphs">Chart prepared by: Climatologist Cliff Harris &amp; Meteorologist Randy Mann</text>
</svg></body></html>
